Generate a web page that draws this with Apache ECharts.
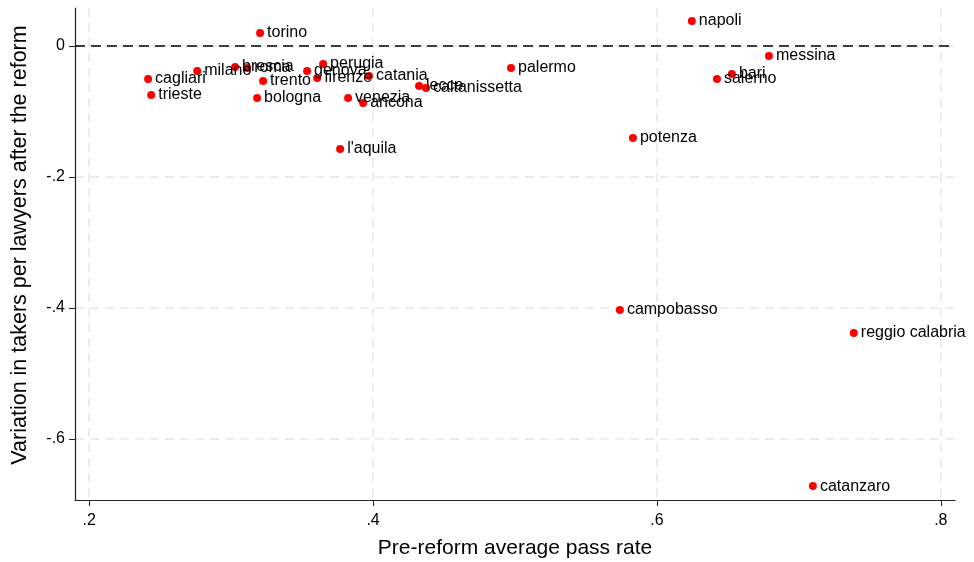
<!DOCTYPE html>
<html>
<head>
<meta charset="utf-8">
<script src="https://cdn.jsdelivr.net/npm/echarts@6/dist/echarts.min.js"></script>
<style>
  html, body { margin: 0; padding: 0; background: #fff; }
  #chart { width: 974px; height: 562px; }
</style>
</head>
<body>
<div id="chart"></div>
<script>
// Court districts: pre-reform pass rate vs. change in takers per lawyer
const cities = [
  'torino', 'napoli', 'messina', 'bari', 'salerno', 'palermo',
  'lecce', 'caltanissetta', 'catania', 'genova', 'firenze', 'perugia',
  'venezia', 'ancona', "l'aquila", 'milano', 'brescia', 'roma',
  'trento', 'bologna', 'cagliari', 'trieste', 'potenza', 'campobasso',
  'reggio calabria', 'catanzaro'
];
const passRate = [
  0.3204, 0.6246, 0.6789, 0.6528, 0.6423, 0.4972,
  0.4324, 0.4373, 0.3972, 0.3535, 0.3606, 0.3648,
  0.3824, 0.3930, 0.3768, 0.2761, 0.3028, 0.3113,
  0.3225, 0.3183, 0.2415, 0.2437, 0.5831, 0.5739,
  0.7387, 0.7099
];
const variation = [
  0.0200, 0.0382, -0.0153, -0.0427, -0.0504, -0.0336,
  -0.0611, -0.0641, -0.0458, -0.0382, -0.0489, -0.0275,
  -0.0794, -0.0870, -0.1573, -0.0382, -0.0321, -0.0336,
  -0.0534, -0.0794, -0.0504, -0.0748, -0.1405, -0.4030,
  -0.4382, -0.6718
];
const xTicks = [0.2, 0.4, 0.6, 0.8];
const yTicks = [0, -0.2, -0.4, -0.6];

const fmt = v => {
  if (Math.abs(v) < 1e-9) return '0';
  const s = Math.abs(v).toFixed(1).replace(/^0/, '');
  return (v < 0 ? '-' : '') + s;
};

const points = cities.map((c, i) => [passRate[i], variation[i], c]);

const font = 'Liberation Sans, Arial, Helvetica, sans-serif';
const gridLine = { show: true, lineStyle: { color: '#e8e8e8', width: 1.5, type: [9, 6] } };

const chart = echarts.init(document.getElementById('chart'), null, { renderer: 'canvas' });
chart.setOption({
  animation: false,
  backgroundColor: '#ffffff',
  grid: { left: 75, right: 19, top: 8, bottom: 62, containLabel: false, outerBoundsMode: 'none' },
  xAxis: {
    type: 'value',
    min: 0.190,
    max: 0.810,
    name: 'Pre-reform average pass rate',
    nameLocation: 'middle',
    nameGap: 38,
    nameTextStyle: { fontFamily: font, fontSize: 21, color: '#000' },
    axisLine: { show: true, onZero: false, lineStyle: { color: '#222', width: 1.2 } },
    axisTick: { show: true, length: 6, lineStyle: { color: '#222' }, customValues: xTicks },
    axisLabel: { fontFamily: font, fontSize: 16, color: '#000', margin: 13, formatter: fmt, customValues: xTicks },
    splitLine: gridLine
  },
  yAxis: {
    type: 'value',
    min: -0.693,
    max: 0.058,
    name: 'Variation in takers per lawyers after the reform',
    nameLocation: 'middle',
    nameGap: 44,
    nameTextStyle: { fontFamily: font, fontSize: 21.5, color: '#000', padding: [0, 0, 0, 18] },
    axisLine: { show: true, onZero: false, lineStyle: { color: '#222', width: 1.2 } },
    axisTick: { show: true, length: 6, lineStyle: { color: '#222' }, customValues: yTicks },
    axisLabel: { fontFamily: font, fontSize: 16, color: '#000', margin: 10, formatter: fmt, customValues: yTicks },
    splitLine: gridLine
  },
  series: [{
    type: 'scatter',
    data: points,
    symbol: 'circle',
    symbolSize: 8,
    itemStyle: { color: '#ff0000', opacity: 1 },
    label: {
      show: true,
      position: 'right',
      distance: 3,
      offset: [0, 3],
      formatter: p => p.data[2],
      fontFamily: font,
      fontSize: 16,
      color: '#000',
      opacity: 1
    },
    labelLayout: { hideOverlap: false },
    markLine: {
      silent: true,
      symbol: 'none',
      label: { show: false },
      lineStyle: { color: '#000', width: 1.6, type: [10, 6] },
      data: [{ yAxis: 0 }]
    },
    z: 3
  }]
});
</script>
</body>
</html>
